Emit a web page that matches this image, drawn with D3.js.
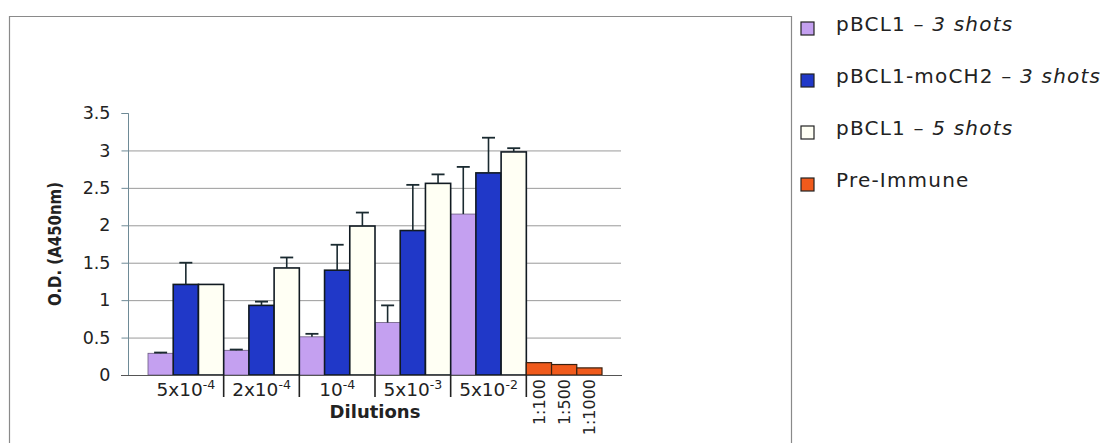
<!DOCTYPE html>
<html><head><meta charset="utf-8">
<script src="https://cdn.jsdelivr.net/npm/d3@7"></script>
<style>html,body{margin:0;padding:0;background:#fff;}svg{display:block;}</style>
</head><body>
<svg id="c" width="1109" height="443"></svg>
<script>
// ---- data ----
const groups = ["5x10-4","2x10-4","10-4","5x10-3","5x10-2","pre"];
const groupBase = ["5x10","2x10","10","5x10","5x10",""];
const groupExp = ["-4","-4","-4","-3","-2",""];
const seriesNames = ["pBCL1 – ","pBCL1-moCH2 – ","pBCL1 – ","Pre-Immune"];
const seriesItalic = ["3 shots","3 shots","5 shots",""];
const seriesColors = ["#c4a0f0","#2038c8","#fffff4","#f05a1c"];
const s1 = [0.29,0.33,0.51,0.70,2.15];
const s1err = [0.30,0.34,0.55,0.93,2.78];
const s2 = [1.21,0.93,1.40,1.93,2.70];
const s2err = [1.50,0.98,1.74,2.54,3.17];
const s3 = [1.21,1.43,1.99,2.56,2.98];
const s3err = [null,1.57,2.17,2.68,3.03];
const preLabels = ["1:100","1:500","1:1000"];
const preValues = [0.165,0.14,0.095];
const yTicks = [0,0.5,1,1.5,2,2.5,3,3.5];
const yTickLabels = ["0","0.5","1","1.5","2","2.5","3","3.5"];

const svg = d3.select("#c");
const FONT = "DejaVu Sans, Verdana, sans-serif";

// frame
svg.append("path").attr("d","M9.5,443 V16.5 H791.5 V443").attr("fill","none").attr("stroke","#8a8a8a").attr("stroke-width",1.2);

const y = d3.scaleLinear().domain([0,3.5]).range([375,113]);
const x = d3.scaleBand().domain(groups).range([148,602]).padding(0);
const inner = d3.scaleBand().domain([0,1,2]).range([0,x.bandwidth()]).padding(0);

// gridlines
svg.append("g").selectAll("line").data(yTicks.filter(v=>v>0 && v<3.5)).join("line")
  .attr("x1",128).attr("x2",621).attr("y1",d=>y(d)+0.5).attr("y2",d=>y(d)+0.5)
  .attr("stroke","#9a9a9a").attr("stroke-width",1);

// y axis
const yAxis = d3.axisLeft(y).tickValues(yTicks).tickFormat((d,i)=>yTickLabels[i]).tickSize(7).tickPadding(11);
const gy = svg.append("g").attr("transform","translate(128.5,0)").call(yAxis);
gy.select(".domain").attr("stroke","#6e8a96").attr("d","M-7,113.5H0V375.5");
gy.selectAll(".tick line").attr("stroke","#6e8a96");
gy.selectAll("text").attr("font-family",FONT).attr("font-size",17.5).attr("fill","#222");

// bars
const dil = groups.slice(0,5);
const seriesData = [s1,s2,s3];
const errData = [s1err,s2err,s3err];
const barG = svg.append("g");
seriesData.forEach((arr,si)=>{
  barG.selectAll(null).data(arr).join("rect")
    .attr("x",(d,i)=>x(dil[i])+inner(si))
    .attr("y",d=>y(d))
    .attr("width",inner.bandwidth())
    .attr("height",d=>y(0)-y(d))
    .attr("fill",seriesColors[si])
    .attr("stroke", si===0 ? "#6a5a80" : "#111a22")
    .attr("stroke-width", si===0 ? 0.8 : 1.6);
});
// pre-immune bars
barG.selectAll(null).data(preValues).join("rect")
  .attr("x",(d,i)=>x("pre")+inner(i))
  .attr("y",d=>y(d))
  .attr("width",inner.bandwidth())
  .attr("height",d=>y(0)-y(d))
  .attr("fill",seriesColors[3]).attr("stroke","#3a2010").attr("stroke-width",1.2);

// error bars
errData.forEach((arr,si)=>{
  arr.forEach((e,i)=>{
    if(e==null) return;
    const cx = x(dil[i])+inner(si)+inner.bandwidth()/2;
    svg.append("line").attr("x1",cx).attr("x2",cx).attr("y1",y(seriesData[si][i])).attr("y2",y(e))
      .attr("stroke","#1a2a30").attr("stroke-width",1.6);
    svg.append("line").attr("x1",cx-6.5).attr("x2",cx+6.5).attr("y1",y(e)).attr("y2",y(e))
      .attr("stroke","#1a2a30").attr("stroke-width",1.8);
  });
});

// x axis line
svg.append("line").attr("x1",121).attr("x2",622).attr("y1",375.5).attr("y2",375.5)
  .attr("stroke","#555").attr("stroke-width",1.2);
// group separators
svg.append("g").selectAll("line").data(groups.slice(1)).join("line")
  .attr("x1",d=>x(d)).attr("x2",d=>x(d)).attr("y1",375).attr("y2",397)
  .attr("stroke","#222").attr("stroke-width",1.6);

// x labels
const xl = svg.append("g").selectAll("text").data(dil).join("text")
  .attr("x",d=>x(d)+x.bandwidth()/2).attr("y",396)
  .attr("text-anchor","middle").attr("font-family",FONT).attr("font-size",18.5).attr("fill","#222");
xl.append("tspan").text((d,i)=>groupBase[i]);
xl.append("tspan").attr("dy",-7).attr("font-size",12.5).text((d,i)=>groupExp[i]);

// pre-immune labels
svg.append("g").selectAll("text").data(preLabels).join("text")
  .attr("transform",(d,i)=>`translate(${x("pre")+inner(i)+inner.bandwidth()/2+6},379) rotate(-90)`)
  .attr("text-anchor","end").attr("font-family",FONT).attr("font-size",16).attr("fill","#222")
  .text(d=>d);

// axis titles
svg.append("text").attr("x",375).attr("y",418).attr("text-anchor","middle")
  .attr("font-family",FONT).attr("font-weight","bold").attr("font-size",18).attr("fill","#222").text("Dilutions");
svg.append("text").attr("transform","translate(61,244) rotate(-90)").attr("text-anchor","middle")
  .attr("font-family",FONT).attr("font-weight","bold").attr("font-size",17).attr("fill","#222")
  .attr("textLength",124).attr("lengthAdjust","spacingAndGlyphs").text("O.D. (A450nm)");

// legend
const leg = svg.append("g").selectAll("g").data(seriesNames).join("g")
  .attr("transform",(d,i)=>`translate(0,${31+i*52})`);
leg.append("rect").attr("x",801).attr("y",-9).attr("width",13).attr("height",13)
  .attr("fill",(d,i)=>seriesColors[i]).attr("stroke","#222").attr("stroke-width",1.2);
const lt = leg.append("text").attr("x",836).attr("y",0).attr("font-family",FONT).attr("font-size",20)
  .attr("letter-spacing",1.2).attr("fill","#222");
lt.append("tspan").text(d=>d);
lt.append("tspan").attr("font-style","italic").text((d,i)=>seriesItalic[i]);
</script>
</body></html>
